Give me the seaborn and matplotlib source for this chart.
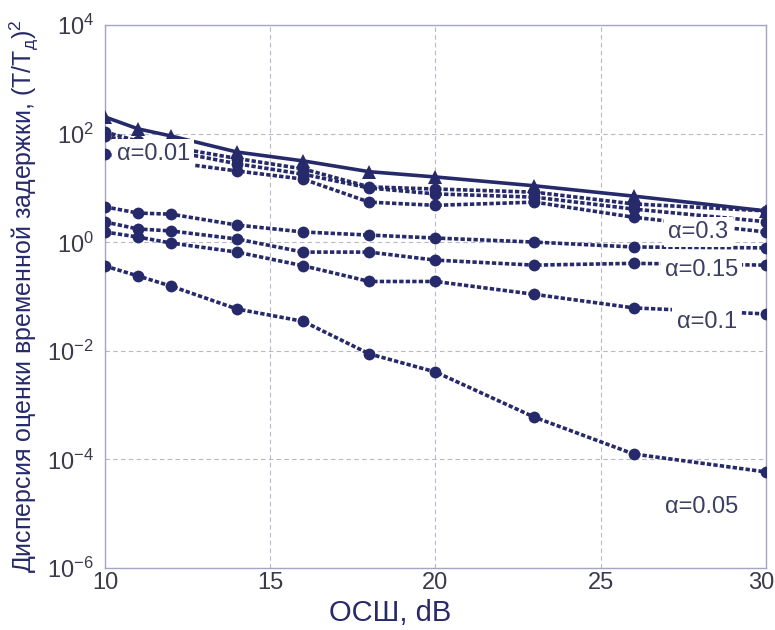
import numpy as np
import pandas as pd
import matplotlib
matplotlib.use("Agg")
import matplotlib.pyplot as plt
import matplotlib.transforms as mtransforms
import seaborn as sns

# SNR points, dB
snr = [10, 11, 12, 14, 16, 18, 20, 23, 26, 30]

# variance of time-delay estimate, (T/Td)^2
var_tri = [204, 123, 91, 46, 31.6, 20, 16, 11, 7.1, 3.8]
var_a = [108, 73, 57, 35, 22.5, 10.5, 9.6, 8.4, 5.1, 3.8]
var_b = [91, 65, 48, 28, 18, 10, 7.8, 6.8, 4.1, 2.4]
var_c = [42, 37, 30, 20.6, 14.6, 5.5, 4.8, 5.5, 2.9, 1.55]
var_d = [4.5, 3.46, 3.3, 2.08, 1.55, 1.36, 1.2, 1.01, 0.82, 0.79]
var_015 = [2.37, 1.76, 1.62, 1.15, 0.66, 0.66, 0.47, 0.38, 0.41, 0.38]
var_01 = [1.55, 1.25, 0.97, 0.66, 0.37, 0.19, 0.19, 0.11, 0.062, 0.048]
var_005 = [0.366, 0.24, 0.156, 0.059, 0.035, 0.0088, 0.0041, 6.0e-4, 1.26e-4, 5.9e-5]

labels = ["α=0.01", "α=0.3", "α=0.15", "α=0.1", "α=0.05"]
label_x = [10.35, 27.05, 26.95, 27.3, 26.95]
label_y = [42, 1.55, 0.31, 0.034, 1.35e-5]

navy = "#272a6a"
spine_col = "#a4a4c4"

sns.set_style("white")
plt.rcParams["font.family"] = ["Liberation Sans", "DejaVu Sans"]
plt.rcParams["mathtext.default"] = "regular"

fig = plt.figure(figsize=(7.75, 6.3), dpi=100)
ax = fig.add_axes([0.1355, 0.0984, 0.8525, 0.8616])

dash = (0, (1.2, 0.6))
sns.lineplot(x=snr, y=var_tri, ax=ax, color=navy, linewidth=2.6,
             marker="^", markersize=10, markeredgewidth=0, zorder=3)
for vals in [var_a, var_b, var_c, var_d, var_015, var_01, var_005]:
    sns.lineplot(x=snr, y=vals, ax=ax, color=navy, linewidth=2.6,
                 linestyle=dash, marker="o", markersize=8.5,
                 markeredgewidth=0, zorder=3)

ax.set_yscale("log")
ax.set_xlim(10, 30)
ax.set_ylim(1e-6, 1e4)
ax.set_xticks([10, 15, 20, 25, 30])
ax.set_yticks([1e-6, 1e-4, 1e-2, 1e0, 1e2, 1e4])
ax.set_yticklabels(["$10^{-6}$", "$10^{-4}$", "$10^{-2}$", "$10^{0}$",
                    "$10^{2}$", "$10^{4}$"])
ax.minorticks_off()
ax.grid(True, color="#b8b8cc", linestyle=(0, (4, 3)), linewidth=0.8)
for s in ax.spines.values():
    s.set_color(spine_col)
    s.set_linewidth(1.0)
ax.tick_params(axis="both", labelsize=17, labelcolor="#3a3a4a",
               direction="in", length=0, pad=3)
ax.tick_params(axis="y", pad=8)

# keep the "30" inside the figure
last = ax.get_xticklabels()[-1]
last.set_transform(last.get_transform() +
                   mtransforms.ScaledTranslation(-4 / 100, 0, fig.dpi_scale_trans))

for t, lx, ly in zip(labels, label_x, label_y):
    ax.text(lx, ly, t, fontsize=17, color="#3c3e62", va="center", ha="left",
            zorder=5, bbox=dict(facecolor="white", edgecolor="none", pad=3))

ax.set_xlabel("ОСШ, dB", fontsize=21, color=navy, labelpad=0)
ax.xaxis.set_label_coords(0.431, -0.058, transform=ax.transAxes)
ax.xaxis.label.set_va("top")
ax.set_ylabel("Дисперсия оценки временной задержки, (T/T$_{д}$)$^{2}$",
              fontsize=18, color=navy, labelpad=4)

fig.savefig("out.png", dpi=100)
